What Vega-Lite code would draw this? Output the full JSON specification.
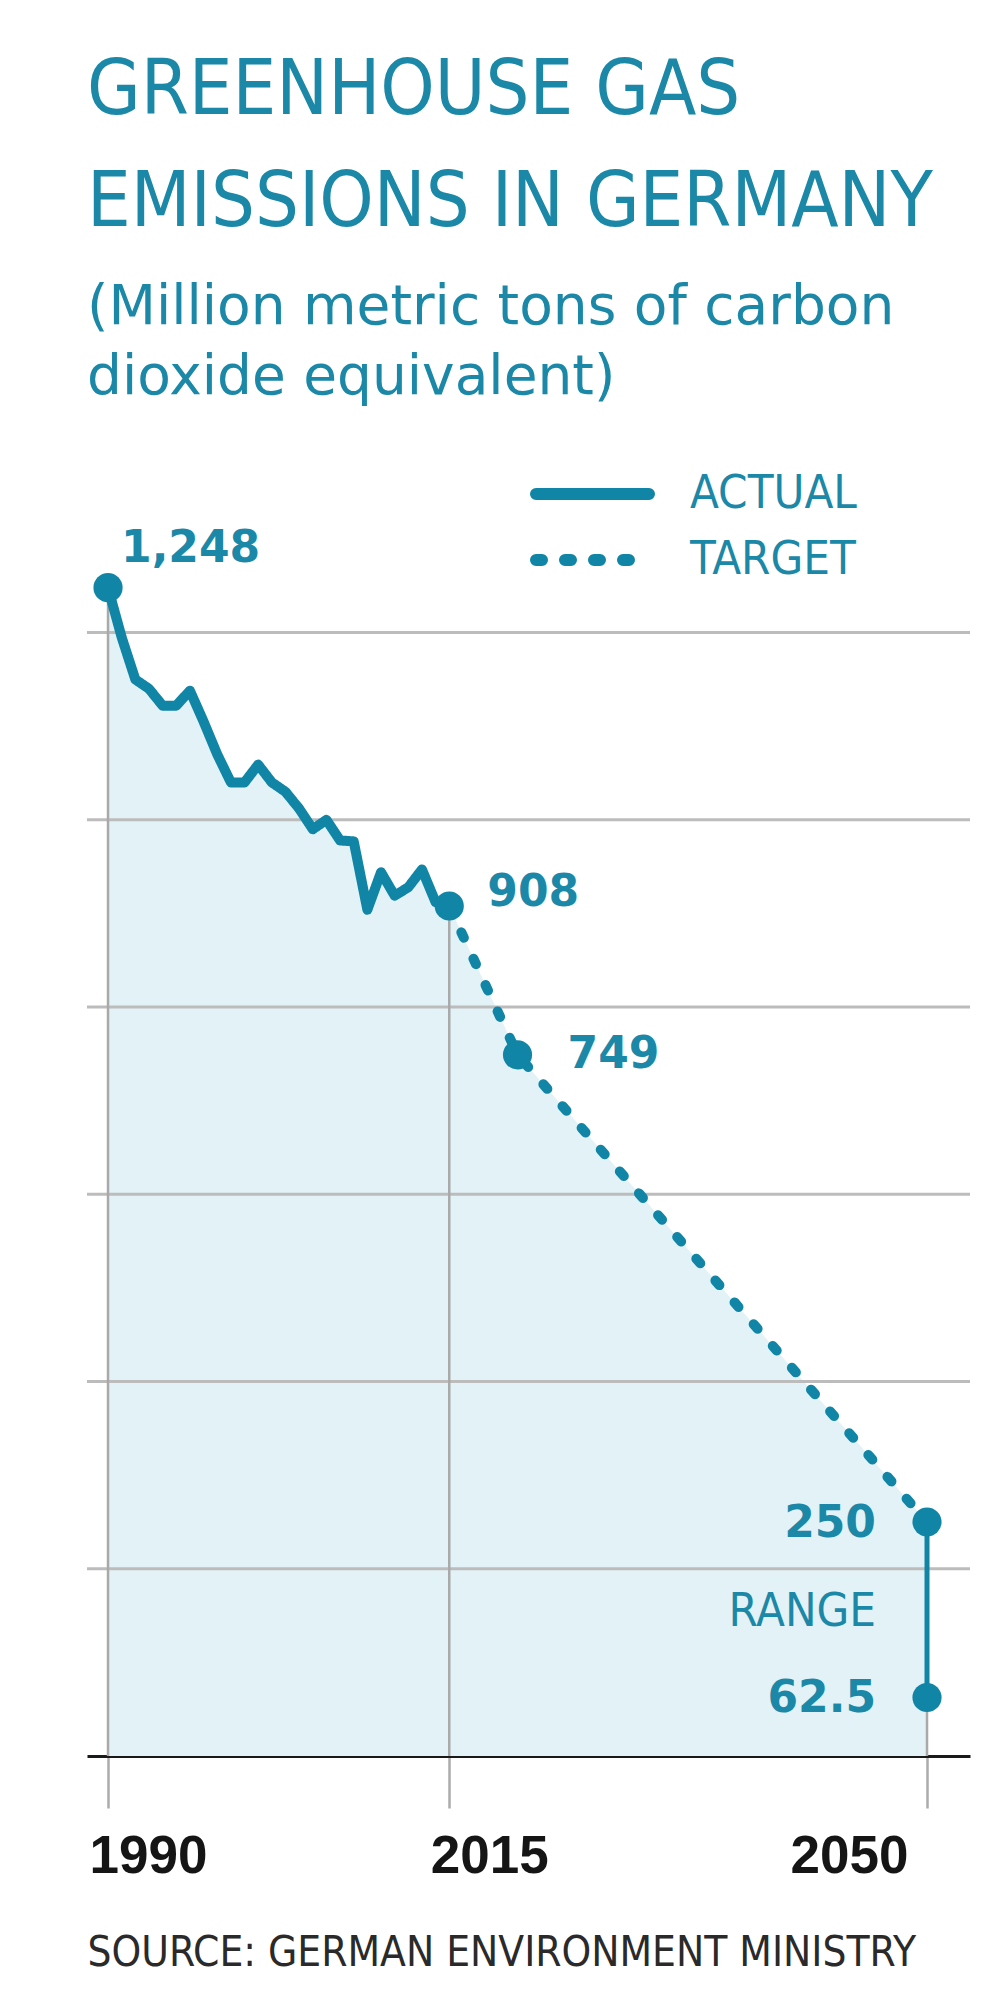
{
  "$schema": "https://vega.github.io/schema/vega-lite/v6.json",
  "width": 883,
  "height": 1217,
  "autosize": {"type": "none"},
  "padding": {"left": 87, "top": 539, "right": 30, "bottom": 247},
  "background": "white",
  "title": {
    "text": ["GREENHOUSE GAS", "EMISSIONS IN GERMANY"],
    "subtitle": ["(Million metric tons of carbon", "dioxide equivalent)"],
    "anchor": "start",
    "frame": "group",
    "orient": "top",
    "font": "DejaVu Sans Condensed, Liberation Sans",
    "fontSize": 77,
    "fontWeight": "normal",
    "color": "#1b88a8",
    "lineHeight": 112,
    "subtitleFont": "DejaVu Sans",
    "subtitleFontSize": 55,
    "subtitleFontWeight": "normal",
    "subtitleColor": "#1b88a8",
    "subtitleLineHeight": 70,
    "subtitlePadding": 39,
    "offset": 60
  },
  "datasets": {
    "emissions": [
      {"year": 1990, "value": 1248, "series": "ACTUAL"},
      {"year": 1991, "value": 1195, "series": "ACTUAL"},
      {"year": 1992, "value": 1150, "series": "ACTUAL"},
      {"year": 1993, "value": 1140, "series": "ACTUAL"},
      {"year": 1994, "value": 1122, "series": "ACTUAL"},
      {"year": 1995, "value": 1122, "series": "ACTUAL"},
      {"year": 1996, "value": 1138, "series": "ACTUAL"},
      {"year": 1997, "value": 1105, "series": "ACTUAL"},
      {"year": 1998, "value": 1070, "series": "ACTUAL"},
      {"year": 1999, "value": 1040, "series": "ACTUAL"},
      {"year": 2000, "value": 1040, "series": "ACTUAL"},
      {"year": 2001, "value": 1059, "series": "ACTUAL"},
      {"year": 2002, "value": 1040, "series": "ACTUAL"},
      {"year": 2003, "value": 1030, "series": "ACTUAL"},
      {"year": 2004, "value": 1012, "series": "ACTUAL"},
      {"year": 2005, "value": 990, "series": "ACTUAL"},
      {"year": 2006, "value": 1000, "series": "ACTUAL"},
      {"year": 2007, "value": 978, "series": "ACTUAL"},
      {"year": 2008, "value": 977, "series": "ACTUAL"},
      {"year": 2009, "value": 904, "series": "ACTUAL"},
      {"year": 2010, "value": 944, "series": "ACTUAL"},
      {"year": 2011, "value": 919, "series": "ACTUAL"},
      {"year": 2012, "value": 928, "series": "ACTUAL"},
      {"year": 2013, "value": 947, "series": "ACTUAL"},
      {"year": 2014, "value": 912, "series": "ACTUAL"},
      {"year": 2015, "value": 908, "series": "ACTUAL"},
      {"year": 2015, "value": 908, "series": "TARGET"},
      {"year": 2020, "value": 749, "series": "TARGET"},
      {"year": 2050, "value": 250, "series": "TARGET"}
    ],
    "points": [
      {"year": 1990, "value": 1248},
      {"year": 2015, "value": 908},
      {"year": 2020, "value": 749},
      {"year": 2050, "value": 250},
      {"year": 2050, "value": 62.5}
    ],
    "drops": [
      {"year": 1990, "value": 1248},
      {"year": 2015, "value": 908},
      {"year": 2050, "value": 62.5}
    ],
    "range": [
      {"year": 2050, "value": 62.5, "value2": 250}
    ],
    "grid": [
      {"value": 200}, {"value": 400}, {"value": 600},
      {"value": 800}, {"value": 1000}, {"value": 1200}
    ],
    "labels": [
      {"year": 1990, "value": 1248, "label": "1,248"},
      {"year": 2015, "value": 908, "label": "908"},
      {"year": 2020, "value": 749, "label": "749"},
      {"year": 2050, "value": 250, "label": "250"},
      {"year": 2050, "value": 156.25, "label": "RANGE"},
      {"year": 2050, "value": 62.5, "label": "62.5"}
    ]
  },
  "config": {
    "view": {"stroke": null},
    "axisY": {"disable": true},
    "axisX": {
      "grid": false,
      "domain": true,
      "domainColor": "#1a1a1a",
      "domainWidth": 3,
      "ticks": true,
      "tickSize": 52,
      "tickColor": "#ababab",
      "tickWidth": 2.5,
      "labelFont": "Liberation Sans",
      "labelFontWeight": "bold",
      "labelFontSize": 53,
      "labelColor": "#151515",
      "labelPadding": 22,
      "labelBaseline": "top",
      "labelOffset": -19,
      "labelFlush": false,
      "labelOverlap": false,
      "titleFont": "DejaVu Sans Condensed, Liberation Sans",
      "titleFontSize": 42,
      "titleFontWeight": "normal",
      "titleColor": "#2a2a2a",
      "titleAnchor": "start",
      "titleAlign": "left",
      "titleBaseline": "alphabetic",
      "titleX": 0,
      "titleY": 209
    }
  },
  "layer": [
    {
      "data": {"name": "emissions"},
      "mark": {"type": "area", "color": "#e3f2f6", "opacity": 1},
      "encoding": {
        "x": {
          "field": "year", "type": "quantitative",
          "scale": {"domain": [1988.46, 2053.15], "nice": false, "zero": false},
          "axis": {
            "values": [1990, 2015, 2050],
            "format": "d",
            "labelAlign": {"condition": {"test": "datum.value == 2050", "value": "right"}, "value": "left"},
            "title": "SOURCE: GERMAN ENVIRONMENT MINISTRY"
          }
        },
        "y": {
          "field": "value", "type": "quantitative", "stack": null,
          "scale": {"domain": [0, 1300], "nice": false, "zero": true},
          "axis": null
        }
      }
    },
    {
      "data": {"name": "grid"},
      "mark": {"type": "rule", "color": "#bcbcbc", "strokeWidth": 3},
      "encoding": {
        "y": {"field": "value", "type": "quantitative", "scale": {"domain": [0, 1300], "nice": false, "zero": true}, "axis": null}
      }
    },
    {
      "data": {"name": "drops"},
      "mark": {"type": "rule", "color": "#a9a9a9", "strokeWidth": 2.5},
      "encoding": {
        "x": {"field": "year", "type": "quantitative", "scale": {"domain": [1988.46, 2053.15], "nice": false, "zero": false}},
        "y": {"field": "value", "type": "quantitative", "scale": {"domain": [0, 1300], "nice": false, "zero": true}, "axis": null},
        "y2": {"datum": 0}
      }
    },
    {
      "data": {"name": "emissions"},
      "mark": {"type": "line", "color": "#1085a6", "strokeWidth": 10, "strokeCap": "round", "strokeJoin": "round"},
      "encoding": {
        "x": {"field": "year", "type": "quantitative", "scale": {"domain": [1988.46, 2053.15], "nice": false, "zero": false}},
        "y": {"field": "value", "type": "quantitative", "scale": {"domain": [0, 1300], "nice": false, "zero": true}, "axis": null},
        "strokeDash": {
          "field": "series", "type": "nominal",
          "scale": {"domain": ["ACTUAL", "TARGET"], "range": [[1, 0], [6, 23]]},
          "legend": {
            "orient": "none",
            "legendX": 443,
            "legendY": -73,
            "title": null,
            "padding": 0,
            "symbolType": "stroke",
            "symbolSize": 12769,
            "symbolStrokeWidth": 12,
            "symbolStrokeColor": "#1085a6",
            "labelFont": "DejaVu Sans Condensed, Liberation Sans",
            "labelFontSize": 47,
            "labelColor": "#1b88a8",
            "labelOffset": 35,
            "labelLimit": 400,
            "clipHeight": 56,
            "rowPadding": 10,
            "encode": {
              "symbols": {
                "update": {
                  "strokeCap": {"value": "round"}
                }
              }
            }
          }
        }
      }
    },
    {
      "data": {"name": "range"},
      "mark": {"type": "rule", "color": "#1085a6", "strokeWidth": 5},
      "encoding": {
        "x": {"field": "year", "type": "quantitative", "scale": {"domain": [1988.46, 2053.15], "nice": false, "zero": false}},
        "y": {"field": "value", "type": "quantitative", "scale": {"domain": [0, 1300], "nice": false, "zero": true}, "axis": null},
        "y2": {"field": "value2"}
      }
    },
    {
      "data": {"name": "points"},
      "mark": {"type": "circle", "color": "#1085a6", "opacity": 1, "size": 850},
      "encoding": {
        "x": {"field": "year", "type": "quantitative", "scale": {"domain": [1988.46, 2053.15], "nice": false, "zero": false}},
        "y": {"field": "value", "type": "quantitative", "scale": {"domain": [0, 1300], "nice": false, "zero": true}, "axis": null}
      }
    },
    {
      "data": {"name": "labels"},
      "transform": [{"filter": "datum.label === '1,248'"}],
      "mark": {"type": "text", "font": "DejaVu Sans", "fontWeight": "bold", "fontSize": 44, "color": "#1b88a8", "align": "left", "baseline": "alphabetic", "dx": 13, "dy": -26},
      "encoding": {
        "x": {"field": "year", "type": "quantitative", "scale": {"domain": [1988.46, 2053.15], "nice": false, "zero": false}},
        "y": {"field": "value", "type": "quantitative", "scale": {"domain": [0, 1300], "nice": false, "zero": true}, "axis": null},
        "text": {"field": "label"}
      }
    },
    {
      "data": {"name": "labels"},
      "transform": [{"filter": "datum.label === '908'"}],
      "mark": {"type": "text", "font": "DejaVu Sans", "fontWeight": "bold", "fontSize": 44, "color": "#1b88a8", "align": "left", "baseline": "alphabetic", "dx": 38, "dy": 0},
      "encoding": {
        "x": {"field": "year", "type": "quantitative", "scale": {"domain": [1988.46, 2053.15], "nice": false, "zero": false}},
        "y": {"field": "value", "type": "quantitative", "scale": {"domain": [0, 1300], "nice": false, "zero": true}, "axis": null},
        "text": {"field": "label"}
      }
    },
    {
      "data": {"name": "labels"},
      "transform": [{"filter": "datum.label === '749'"}],
      "mark": {"type": "text", "font": "DejaVu Sans", "fontWeight": "bold", "fontSize": 44, "color": "#1b88a8", "align": "left", "baseline": "alphabetic", "dx": 50, "dy": 13},
      "encoding": {
        "x": {"field": "year", "type": "quantitative", "scale": {"domain": [1988.46, 2053.15], "nice": false, "zero": false}},
        "y": {"field": "value", "type": "quantitative", "scale": {"domain": [0, 1300], "nice": false, "zero": true}, "axis": null},
        "text": {"field": "label"}
      }
    },
    {
      "data": {"name": "labels"},
      "transform": [{"filter": "datum.label === '250' || datum.label === '62.5'"}],
      "mark": {"type": "text", "font": "DejaVu Sans", "fontWeight": "bold", "fontSize": 44, "color": "#1b88a8", "align": "right", "baseline": "middle", "dx": -51, "dy": 2},
      "encoding": {
        "x": {"field": "year", "type": "quantitative", "scale": {"domain": [1988.46, 2053.15], "nice": false, "zero": false}},
        "y": {"field": "value", "type": "quantitative", "scale": {"domain": [0, 1300], "nice": false, "zero": true}, "axis": null},
        "text": {"field": "label"}
      }
    },
    {
      "data": {"name": "labels"},
      "transform": [{"filter": "datum.label === 'RANGE'"}],
      "mark": {"type": "text", "font": "DejaVu Sans Condensed, Liberation Sans", "fontWeight": "normal", "fontSize": 47, "color": "#1b88a8", "align": "right", "baseline": "middle", "dx": -51, "dy": 2},
      "encoding": {
        "x": {"field": "year", "type": "quantitative", "scale": {"domain": [1988.46, 2053.15], "nice": false, "zero": false}},
        "y": {"field": "value", "type": "quantitative", "scale": {"domain": [0, 1300], "nice": false, "zero": true}, "axis": null},
        "text": {"field": "label"}
      }
    }
  ]
}
